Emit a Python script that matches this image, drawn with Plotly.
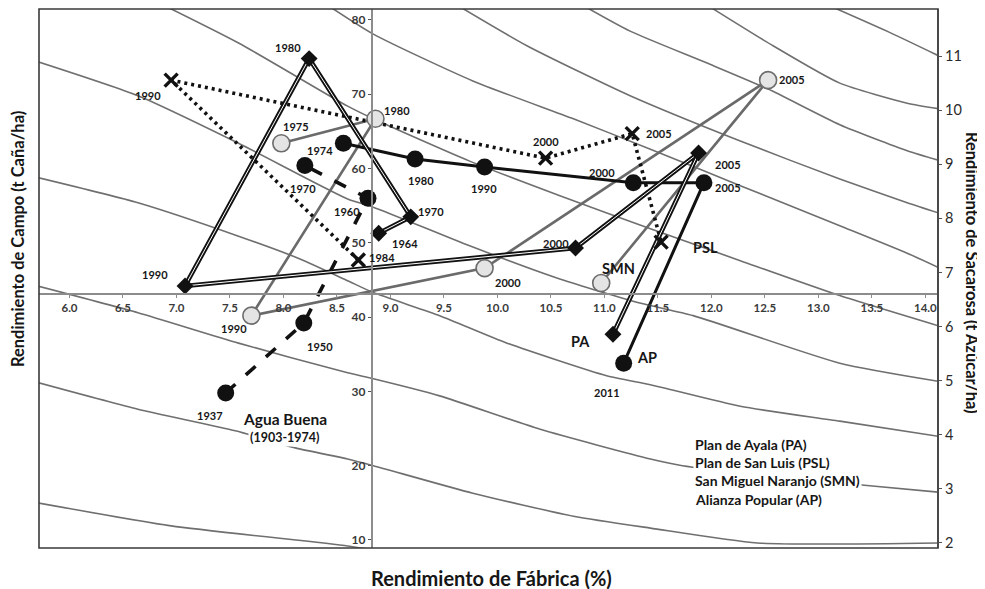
import plotly.graph_objects as go

# ---------------- data ----------------
# Iso-lines of sugar yield: Rendimiento de Fábrica (%) vs Rendimiento de Campo (t caña/ha)
iso1_fab = [5.70, 6.95, 8.60, 8.95]
iso1_campo = [15.0, 11.9, 9.2, 8.4]
iso2_fab = [5.70, 6.64, 7.55, 8.11, 8.60, 8.84, 9.77, 10.71, 11.43, 12.43, 14.15]
iso2_campo = [31.2, 27.6, 24.7, 22.4, 20.9, 20.0, 16.3, 13.2, 11.6, 9.6, 9.6]
iso3_fab = [5.70, 6.64, 7.58, 8.60, 8.84, 9.46, 10.40, 11.43, 11.73, 13.48, 14.15]
iso3_campo = [44.2, 40.6, 36.5, 32.5, 31.7, 29.4, 24.9, 20.9, 20.0, 17.3, 16.4]
iso4_fab = [5.70, 6.64, 7.58, 8.16, 8.60, 8.84, 9.46, 10.09, 11.02, 11.43, 12.27, 13.20, 14.15]
iso4_campo = [58.8, 55.4, 50.9, 47.8, 44.9, 43.3, 40.2, 36.5, 32.1, 30.9, 28.0, 26.0, 23.9]
iso5_fab = [5.70, 6.64, 7.58, 8.60, 8.84, 9.74, 10.59, 11.33, 11.83, 13.20, 14.15]
iso5_campo = [74.4, 69.8, 63.4, 55.9, 54.8, 49.6, 45.1, 41.9, 40.2, 33.8, 31.3]
iso6_fab = [6.85, 7.58, 8.60, 8.84, 9.74, 10.59, 11.43, 12.27, 13.20, 14.15]
iso6_campo = [82.2, 76.9, 68.4, 66.7, 61.0, 56.3, 51.9, 47.6, 42.9, 38.7]
iso7_fab = [8.39, 8.84, 9.77, 10.71, 11.43, 12.27, 13.20, 13.83, 14.15]
iso7_campo = [82.2, 78.1, 71.8, 66.7, 62.6, 57.7, 52.3, 48.6, 46.5]
iso8_fab = [9.60, 10.28, 11.24, 12.27, 13.20, 13.83, 14.15]
iso8_campo = [82.2, 76.5, 69.8, 63.7, 58.6, 55.4, 53.9]
iso9_fab = [10.77, 11.24, 11.96, 12.53, 13.20, 13.83, 14.15]
iso9_campo = [82.2, 78.5, 74.2, 70.7, 65.9, 62.4, 61.0]
iso10_fab = [11.94, 12.05, 12.58, 13.20, 13.83, 14.15]
iso10_campo = [82.2, 81.2, 76.5, 71.5, 68.8, 68.0]
iso11_fab = [13.06, 13.67, 14.15]
iso11_campo = [82.2, 78.3, 75.0]

# Plan de Ayala (PA)
pa_labels = ["1964", "1970", "1980", "1990", "2000", "2005", "PA"]
pa_fab = [8.89, 9.19, 8.24, 7.08, 10.73, 11.88, 11.08]
pa_campo = [51.3, 53.5, 74.8, 44.2, 49.3, 62.1, 37.7]

# Plan de San Luis (PSL)
psl_labels = ["1984", "1990", "2000", "2005", "PSL"]
psl_fab = [8.70, 6.95, 10.45, 11.26, 11.53]
psl_campo = [47.7, 71.9, 61.4, 64.7, 50.1]

# San Miguel Naranjo (SMN)
smn_labels = ["1975", "1980", "1990", "2000", "2005", "SMN"]
smn_fab = [7.98, 8.86, 7.70, 9.88, 12.53, 10.97]
smn_campo = [63.4, 66.7, 40.2, 46.6, 71.9, 44.6]

# Alianza Popular (AP)
ap_labels = ["1974", "1980", "1990", "2000", "2005", "AP"]
ap_fab = [8.56, 9.23, 9.88, 11.27, 11.93, 11.18]
ap_campo = [63.4, 61.3, 60.2, 58.1, 58.1, 33.8]

# Agua Buena (1903-1974)
ab_labels = ["1937", "1950", "1960", "1970"]
ab_fab = [7.46, 8.19, 8.79, 8.20]
ab_campo = [29.8, 39.2, 56.0, 60.4]

legend_lines = ["Plan de Ayala (PA)", "Plan de San Luis (PSL)",
                "San Miguel Naranjo (SMN)", "Alianza Popular (AP)"]

# ---------------- styling (pixel offsets of the labels) ----------------
pa_dx = [26, 20, -21, -30, -20, 29, -32]
pa_dy = [-10, 5, 11, 11, 5, -12, -7]
ap_dx = [-23, 6, -1, -31, 24, 23]
ap_dy = [-7, -22, -21, 10, -5, 6]
ab_dx = [-16, 16, -21, -2]
ab_dy = [-23, -23, -13, -23]
psl_dx = [24, -23, 0, 27, 44]
psl_dy = [2, -15, 17, 0, -5]
smn_dx = [15, 22, -17, 23, 24, 17]
smn_dy = [17, 8, -13, -14, 1, 14]

FONT = "Lato"
ISO = "#6f6f6f"
AXIS = "#8c8c8c"
TXT = "#161616"

fig = go.Figure()

iso_sets = [(iso1_fab, iso1_campo), (iso2_fab, iso2_campo), (iso3_fab, iso3_campo),
            (iso4_fab, iso4_campo), (iso5_fab, iso5_campo), (iso6_fab, iso6_campo),
            (iso7_fab, iso7_campo), (iso8_fab, iso8_campo), (iso9_fab, iso9_campo),
            (iso10_fab, iso10_campo), (iso11_fab, iso11_campo)]
for fx, cy in iso_sets:
    fig.add_trace(go.Scatter(x=fx, y=cy, mode="lines",
                             line=dict(color=ISO, width=1.6, shape="spline", smoothing=0.6),
                             hoverinfo="skip"))

# series lines
fig.add_trace(go.Scatter(x=smn_fab, y=smn_campo, mode="lines",
                         line=dict(color="#6a6a6a", width=2.6)))
fig.add_trace(go.Scatter(x=psl_fab, y=psl_campo, mode="lines",
                         line=dict(color="#111111", width=3.6, dash="3px,4px")))
fig.add_trace(go.Scatter(x=ab_fab, y=ab_campo, mode="lines",
                         line=dict(color="#111111", width=3.6, dash="13px,14px")))
fig.add_trace(go.Scatter(x=ap_fab, y=ap_campo, mode="lines",
                         line=dict(color="#111111", width=3)))
fig.add_trace(go.Scatter(x=pa_fab, y=pa_campo, mode="lines",
                         line=dict(color="#111111", width=4.6)))
fig.add_trace(go.Scatter(x=pa_fab, y=pa_campo, mode="lines",
                         line=dict(color="#ffffff", width=1.0)))

# markers
fig.add_trace(go.Scatter(x=smn_fab, y=smn_campo, mode="markers",
                         marker=dict(symbol="circle", size=17, color="#e4e4e4",
                                     line=dict(color="#6c6c6c", width=1.6))))
fig.add_trace(go.Scatter(x=psl_fab, y=psl_campo, mode="markers",
                         marker=dict(symbol="x-thin", size=13,
                                     line=dict(color="#111111", width=3.4))))
fig.add_trace(go.Scatter(x=ab_fab, y=ab_campo, mode="markers",
                         marker=dict(symbol="circle", size=17, color="#111111")))
fig.add_trace(go.Scatter(x=ap_fab, y=ap_campo, mode="markers",
                         marker=dict(symbol="circle", size=17, color="#111111")))
fig.add_trace(go.Scatter(x=pa_fab, y=pa_campo, mode="markers",
                         marker=dict(symbol="diamond", size=13, color="#111111")))
# empty trace registering the right-hand sugar axis
fig.add_trace(go.Scatter(x=[], y=[], yaxis="y2"))

annotations = []


def add_labels(fx, cy, labels, dx, dy, big=("PA", "AP", "PSL", "SMN")):
    for f, c, t, sx, sy in zip(fx, cy, labels, dx, dy):
        size = 14.5 if t in big else 11
        annotations.append(dict(x=f, y=c, xref="x", yref="y", text="<b>%s</b>" % t,
                                showarrow=False, xshift=sx, yshift=sy,
                                xanchor="center", yanchor="middle",
                                font=dict(family=FONT, size=size, color=TXT)))


add_labels(pa_fab, pa_campo, pa_labels, pa_dx, pa_dy)
add_labels(ap_fab, ap_campo, ap_labels, ap_dx, ap_dy)
add_labels(ab_fab, ab_campo, ab_labels, ab_dx, ab_dy)
add_labels(psl_fab, psl_campo, psl_labels, psl_dx, psl_dy)
add_labels(smn_fab, smn_campo, smn_labels, smn_dx, smn_dy)
annotations.append(dict(x=ap_fab[-1], y=ap_campo[-1], xref="x", yref="y", text="<b>2011</b>",
                        showarrow=False, xshift=-17, yshift=-29,
                        xanchor="center", yanchor="middle",
                        font=dict(family=FONT, size=11, color=TXT)))
annotations.append(dict(x=ab_fab[0], y=ab_campo[0], xref="x", yref="y", text="<b>Agua Buena</b>",
                        showarrow=False, xshift=59, yshift=-26, bgcolor="white", borderpad=0,
                        xanchor="center", yanchor="middle",
                        font=dict(family=FONT, size=15.5, color=TXT)))
annotations.append(dict(x=ab_fab[0], y=ab_campo[0], xref="x", yref="y", text="<b>(1903-1974)</b>",
                        showarrow=False, xshift=59, yshift=-45, bgcolor="white", borderpad=1,
                        xanchor="center", yanchor="middle",
                        font=dict(family=FONT, size=12.5, color=TXT)))
for i, t in enumerate(legend_lines):
    annotations.append(dict(x=0.7275, y=0.1928 - i * 0.034, xref="paper", yref="paper",
                            text="<b>%s</b>" % t, showarrow=False,
                            xanchor="left", yanchor="middle",
                            bgcolor="white", borderpad=1,
                            font=dict(family=FONT, size=14, color=TXT)))
# axis titles
annotations.append(dict(x=-0.0234, y=0.573, xref="paper", yref="paper", textangle=-90,
                        xanchor="center", yanchor="middle",
                        text="<b>Rendimiento de Campo (t Caña/ha)</b>", showarrow=False,
                        font=dict(family=FONT, size=16.5, color=TXT)))
annotations.append(dict(x=1.038, y=0.51, xref="paper", yref="paper", textangle=90,
                        xanchor="center", yanchor="middle",
                        text="<b>Rendimiento de Sacarosa (t Azúcar/ha)</b>", showarrow=False,
                        font=dict(family=FONT, size=16.5, color=TXT)))
annotations.append(dict(x=0.503, y=-0.0557, xref="paper", yref="paper",
                        xanchor="center", yanchor="middle",
                        text="<b>Rendimiento de Fábrica (%)</b>", showarrow=False,
                        font=dict(family=FONT, size=20, color=TXT)))

fig.update_layout(
    width=985, height=589,
    # the page body adds an 8 px offset; margins compensate so the plot area lands where the original's does
    margin=dict(l=31, r=55, t=1, b=49),
    paper_bgcolor="white", plot_bgcolor="white",
    showlegend=False,
    annotations=annotations,
    xaxis=dict(range=[5.715, 14.118], anchor="free", position=0.4712,
               tick0=6.0, dtick=0.5, tickformat=".1f",
               showline=True, linecolor=AXIS, linewidth=2.2,
               ticks="outside", ticklen=3, tickcolor=AXIS,
               showgrid=False, zeroline=False,
               tickfont=dict(family=FONT, size=11.5, color="#3a3a3a", weight="bold")),
    yaxis=dict(range=[8.92, 81.48], anchor="free", position=0.3704, side="left",
               tick0=10, dtick=10,
               showline=True, linecolor=AXIS, linewidth=2.2,
               ticks="outside", ticklen=3, tickcolor="#555555",
               showgrid=False, zeroline=False,
               tickfont=dict(family=FONT, size=12, color="#3a3a3a", weight="bold")),
    yaxis2=dict(range=[1.907, 11.869], overlaying="y", side="right", anchor="free", position=1.0,
                tick0=2, dtick=1,
                showline=True, linecolor=AXIS, linewidth=2.2,
                ticks="outside", ticklen=3, tickcolor="#555555",
                showgrid=False, zeroline=False,
                tickfont=dict(family=FONT, size=14.5, color="#2a2a2a")),
    shapes=[dict(type="rect", xref="paper", yref="paper", x0=0, x1=1, y0=0, y1=1,
                 line=dict(color="#3a3a3a", width=1.6), layer="above")],
)

fig.write_html("out.html")
